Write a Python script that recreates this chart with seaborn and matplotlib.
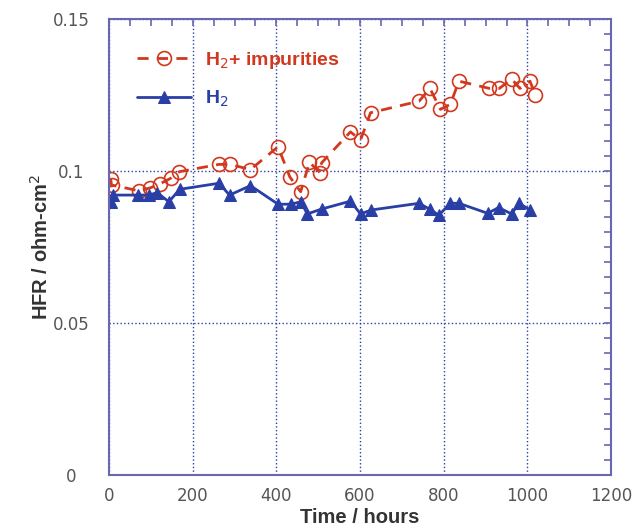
import numpy as np
import pandas as pd
import seaborn as sns
import matplotlib.pyplot as plt
from matplotlib.ticker import MultipleLocator, FixedLocator

# H2 + impurities (red, dashed, open circles)
imp_hours = [4, 6, 72, 99, 123, 147, 168, 263, 289, 338, 404, 432, 458, 479,
             504, 508, 577, 601, 625, 741, 767, 792, 816, 836, 909, 933, 962,
             982, 1006, 1019]
imp_hfr = [0.0974, 0.0954, 0.0935, 0.0945, 0.0959, 0.0976, 0.0998, 0.1022,
           0.1022, 0.1005, 0.1080, 0.0981, 0.0932, 0.1029, 0.0995, 0.1027,
           0.1129, 0.1102, 0.1192, 0.1230, 0.1272, 0.1203, 0.1220, 0.1296,
           0.1272, 0.1272, 0.1303, 0.1272, 0.1296, 0.1250]

# pure H2 (blue, solid, filled triangles)
h2_hours = [4, 9, 70, 95, 115, 143, 169, 263, 288, 338, 404, 435, 458, 474,
            508, 577, 601, 627, 741, 767, 788, 816, 836, 905, 931, 962, 980,
            1006]
h2_hfr = [0.0899, 0.0921, 0.0921, 0.0921, 0.0929, 0.0899, 0.0940, 0.0960,
          0.0921, 0.0952, 0.0891, 0.0891, 0.0899, 0.0859, 0.0875, 0.0901,
          0.0859, 0.0872, 0.0894, 0.0874, 0.0855, 0.0894, 0.0894, 0.0861,
          0.0880, 0.0859, 0.0894, 0.0872]

x_ticks = [0, 200, 400, 600, 800, 1000, 1200]
y_ticks = [0, 0.05, 0.1, 0.15]
y_labels = ["0", "0.05", "0.1", "0.15"]

red = "#d2381e"
blue = "#2a3fa6"
frame = "#6a66b0"

sns.set_style("white")
plt.rcParams["font.family"] = ["DejaVu Sans"]

fig = plt.figure(figsize=(6.32, 5.31), dpi=100)
ax = fig.add_axes([0.1725, 0.1055, 0.7945, 0.8585])

imp = pd.DataFrame({"hours": imp_hours, "hfr": imp_hfr})
h2 = pd.DataFrame({"hours": h2_hours, "hfr": h2_hfr})

sns.lineplot(data=imp, x="hours", y="hfr", sort=False, ax=ax, color=red,
             linestyle=(0, (4, 3)), linewidth=2, marker="o", markersize=10,
             markerfacecolor="none", markeredgecolor=red, markeredgewidth=1.2,
             label=r"H$_2$+ impurities")
sns.lineplot(data=h2, x="hours", y="hfr", sort=False, ax=ax, color=blue,
             linewidth=2, marker="^", markersize=9, markeredgecolor=blue,
             label=r"H$_2$")

ax.set_xlim(0, 1200)
ax.set_ylim(0, 0.15)
ax.xaxis.set_major_locator(FixedLocator(x_ticks))
ax.xaxis.set_minor_locator(MultipleLocator(50))
ax.yaxis.set_major_locator(FixedLocator(y_ticks))
ax.set_yticklabels(y_labels)
ax.yaxis.set_minor_locator(MultipleLocator(0.005))

ax.grid(True, which="major", color=blue, linestyle=":", linewidth=1)
for s in ax.spines.values():
    s.set_color(frame)
    s.set_linewidth(1.5)

ax.tick_params(which="both", direction="in", top=True, right=True,
               color=frame, width=1.2, labelcolor="#555555", labelsize=12)
ax.tick_params(which="major", length=5)
ax.tick_params(which="minor", length=5)
ax.tick_params(axis="x", which="major", pad=9)
ax.tick_params(axis="y", which="major", pad=27)
for lab in ax.get_yticklabels():
    lab.set_horizontalalignment("center")

ax.set_xlabel("Time / hours", fontsize=14.5, fontweight="bold",
              family="Liberation Sans", color="#333333", labelpad=2)
ax.set_ylabel(r"HFR / ohm-cm$^2$", fontsize=14.5, fontweight="bold",
              family="Liberation Sans", color="#333333", labelpad=1)

leg = ax.legend(loc="upper left", bbox_to_anchor=(0.02, 0.97), frameon=False,
                handlelength=2.8, handletextpad=0.7, labelspacing=0.9,
                prop={"family": "Liberation Sans", "weight": "bold", "size": 14})
for txt, c in zip(leg.get_texts(), [red, blue]):
    txt.set_color(c)

fig.savefig("out.png", dpi=100)
